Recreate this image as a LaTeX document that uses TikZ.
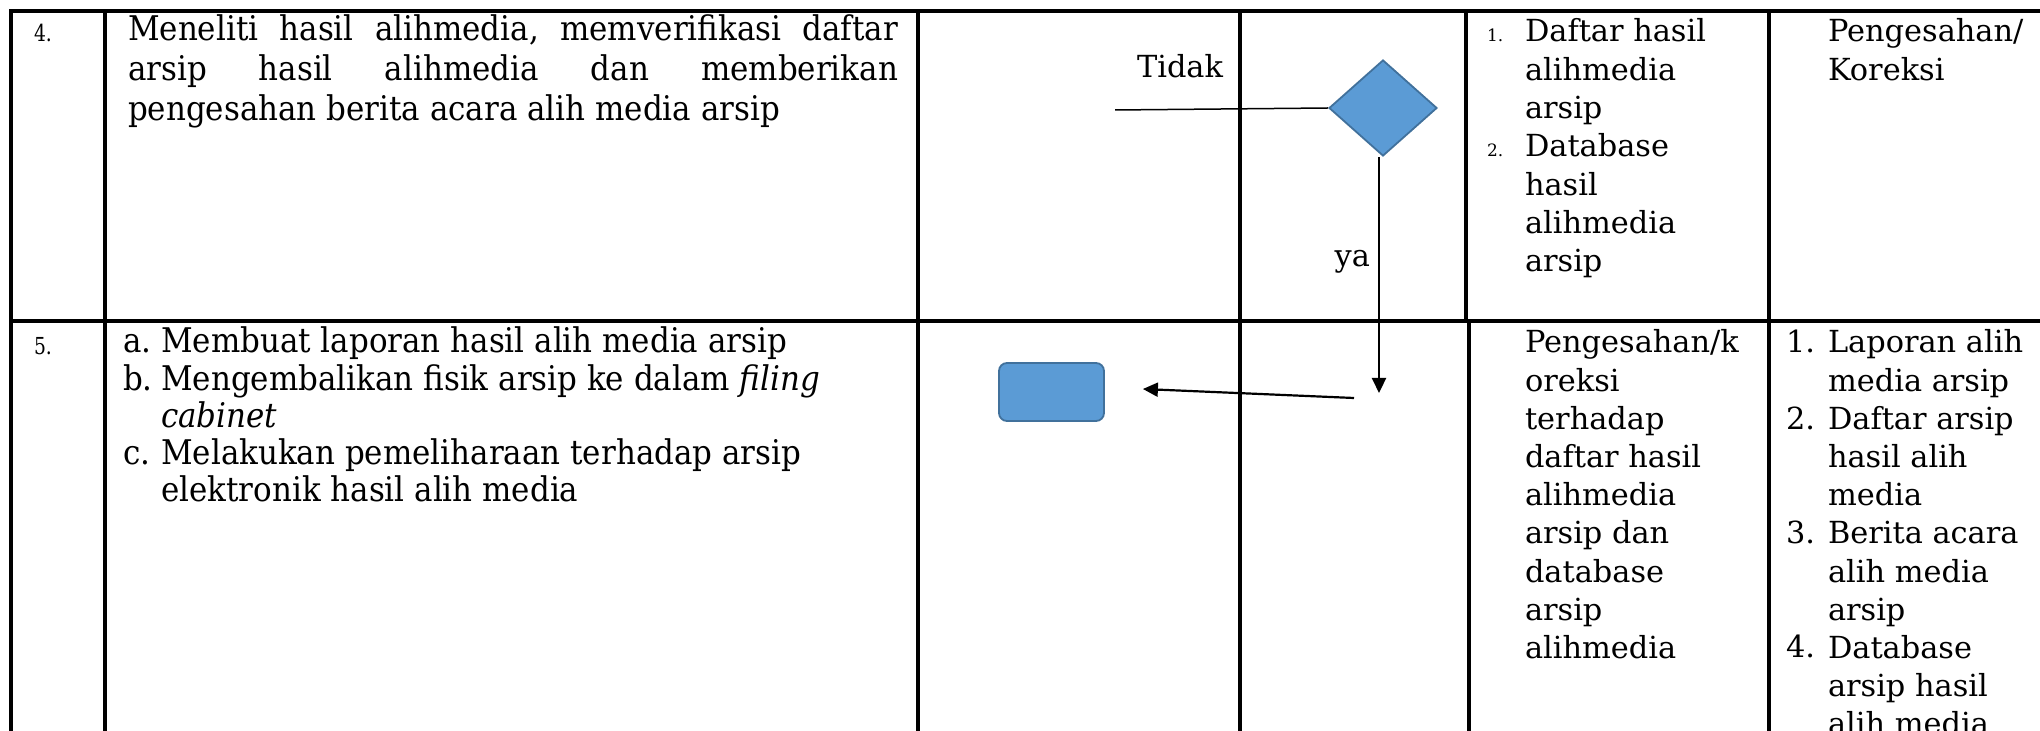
\documentclass[tikz,border=0pt]{standalone}
\usepackage{fontspec}
\setmainfont{DejaVu Serif}
\usepackage{graphicx}
\usetikzlibrary{shapes.geometric,arrows.meta}

\definecolor{boxblue}{HTML}{5B9BD5}
\definecolor{boxedge}{HTML}{41719C}

% condensed setting used in the first two columns
\newcommand{\cnd}[1]{\scalebox{0.91}[1]{#1}}
\newcommand{\numcnd}[1]{\scalebox{0.8}[1]{#1}}
\newcommand{\bigtxt}{\fontsize{17}{20}\selectfont}
\newcommand{\midtxt}{\fontsize{15.2}{19.1}\selectfont}
\newcommand{\tinynum}{\fontsize{8.5}{9}\selectfont}
\newcommand{\rownum}{\fontsize{11.7}{13}\selectfont}

\begin{document}
\begin{tikzpicture}[x=0.5pt,y=-0.5pt,
  tbl/.style={line width=1.6pt,line cap=rect},
  txt/.style={inner sep=0pt,outer sep=0pt,anchor=base west},
  decision/.style={diamond,draw=boxedge,fill=boxblue,line width=0.9pt,
    inner sep=0pt,minimum width=54pt,minimum height=48pt},
  procbox/.style={rectangle,rounded corners=4pt,draw=boxedge,fill=boxblue,
    line width=0.9pt,inner sep=0pt,minimum width=52.5pt,minimum height=29pt},
  thinline/.style={line width=0.75pt},
  conn/.style={line width=1.1pt,-{Triangle[length=7.5pt,width=7pt]}}]

\useasboundingbox (0,0) rectangle (2040,731);

% table grid
\draw[tbl] (11,11) -- (2045,11);
\draw[tbl] (11,321) -- (2045,321);
\foreach \xx in {11,105,918,1240,1769}
  \draw[tbl] (\xx,11) -- (\xx,740);
\draw[tbl] (1466,11) -- (1466,321);
\draw[tbl] (1469,321) -- (1469,740);

% row 4
\node[txt] (n4) at (34,42) {\numcnd{\rownum 4.}};
\node[txt] (r4) at (128,41) {\cnd{\parbox[t]{423.1pt}{\bigtxt\baselineskip=20pt
  Meneliti\hfill hasil\hfill alihmedia,\hfill memverifikasi\hfill daftar\\
  arsip\hfill hasil\hfill alihmedia\hfill dan\hfill memberikan\\
  pengesahan berita acara alih media arsip}}};

\node[decision] (dec) at (1383,108) {};
\node[txt,anchor=base east] (tdk) at (1223,78) {\midtxt Tidak};
\node[txt,anchor=base east] (ya) at (1370,267) {\midtxt ya};

\node[txt] (l1) at (1487,42) {\tinynum 1.};
\node[txt] (d1) at (1525,42) {\parbox[t]{110pt}{\midtxt Daftar hasil\\alihmedia\\arsip}};
\node[txt] (l2) at (1487,157) {\tinynum 2.};
\node[txt] (d2) at (1525,157) {\parbox[t]{110pt}{\midtxt Database\\hasil\\alihmedia\\arsip}};
\node[txt] (pk) at (1828,42) {\parbox[t]{110pt}{\midtxt Pengesahan/\\Koreksi}};

% row 5
\node[txt] (n5) at (34,355) {\numcnd{\rownum 5.}};
\node[txt] (r5) at (123,353) {\cnd{\parbox[t]{520pt}{\bigtxt\baselineskip=18.6pt
  \makebox[21pt][l]{a.}Membuat laporan hasil alih media arsip\\
  \makebox[21pt][l]{b.}Mengembalikan fisik arsip ke dalam \textit{filing}\\
  \hspace*{21pt}\textit{cabinet}\\
  \makebox[21pt][l]{c.}Melakukan pemeliharaan terhadap arsip\\
  \hspace*{21pt}elektronik hasil alih media}}};

\node[procbox] (rb) at (1051.5,392) {};

\node[txt] (pko) at (1525,353) {\parbox[t]{120pt}{\midtxt Pengesahan/k\\oreksi\\terhadap\\daftar hasil\\alihmedia\\arsip dan\\database\\arsip\\alihmedia}};

\node[txt] (m1) at (1786,353) {\midtxt 1.};
\node[txt] (m2) at (1786,429.2) {\midtxt 2.};
\node[txt] (m3) at (1786,543.5) {\midtxt 3.};
\node[txt] (m4) at (1786,657.8) {\midtxt 4.};
\node[txt] (out) at (1828,353) {\parbox[t]{120pt}{\midtxt Laporan alih\\media arsip\\Daftar arsip\\hasil alih\\media\\Berita acara\\alih media\\arsip\\Database\\arsip hasil\\alih media}};

% connectors
\coordinate (tidakEnd) at (1115,110);
\draw[thinline] (dec.west) -- (tidakEnd);
\coordinate (yaEnd) at (1379,393);
\draw[conn] (dec.south -| yaEnd) -- (yaEnd);
\coordinate (retStart) at (1354,398);
\coordinate (retEnd) at ([shift={(19pt,1.5pt)}]rb.east);
\draw[conn] (retStart) -- (retEnd);
\end{tikzpicture}
\end{document}
